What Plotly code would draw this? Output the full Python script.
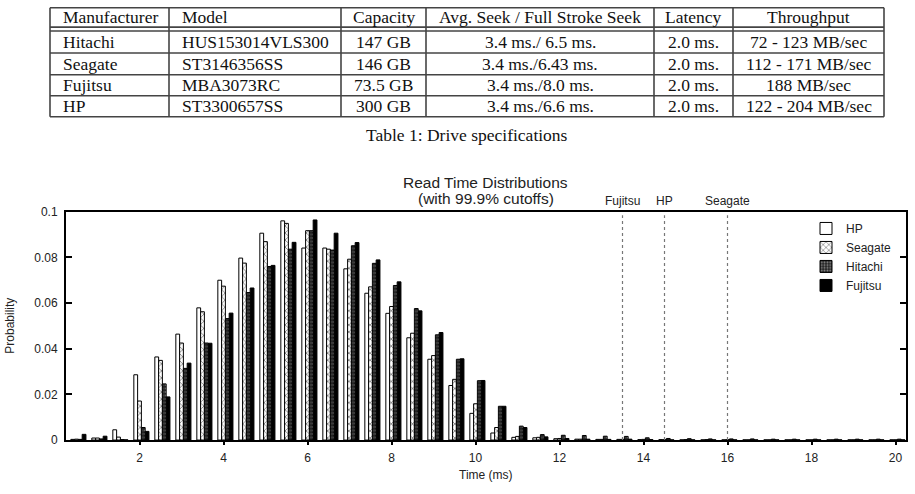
import plotly.graph_objects as go

W, H = 915, 494

# ---------------- table data ----------------
table_header = ["Manufacturer", "Model", "Capacity", "Avg. Seek / Full Stroke Seek", "Latency", "Throughput"]
manufacturers = ["Hitachi", "Seagate", "Fujitsu", "HP"]
models = ["HUS153014VLS300", "ST3146356SS", "MBA3073RC", "ST3300657SS"]
capacities = ["147 GB", "146 GB", "73.5 GB", "300 GB"]
seek_times = ["3.4 ms./ 6.5 ms.", "3.4 ms./6.43 ms.", "3.4 ms./8.0 ms.", "3.4 ms./6.6 ms."]
latencies = ["2.0 ms.", "2.0 ms.", "2.0 ms.", "2.0 ms."]
throughputs = ["72 - 123 MB/sec", "112 - 171 MB/sec", "188 MB/sec", "122 - 204 MB/sec"]
table_caption = "Table 1: Drive specifications"

# ---------------- chart data ----------------
times = [0.5, 1.0, 1.5, 2.0, 2.5, 3.0, 3.5, 4.0, 4.5, 5.0,
         5.5, 6.0, 6.5, 7.0, 7.5, 8.0, 8.5, 9.0, 9.5, 10.0,
         10.5, 11.0, 11.5, 12.0, 12.5, 13.0, 13.5, 14.0, 14.5, 15.0,
         15.5, 16.0, 16.5, 17.0, 17.5, 18.0, 18.5, 19.0, 19.5, 20.0]
hp = [0.0003, 0.0009, 0.0045, 0.0286, 0.0364, 0.0464, 0.0579, 0.0700, 0.0797, 0.0906,
      0.0960, 0.0841, 0.0841, 0.0750, 0.0643, 0.0555, 0.0448, 0.0354, 0.0239, 0.0117,
      0.0031, 0.0012, 0.0010, 0.0006, 0.0004, 0.0003, 0.0003, 0.0002, 0.0002, 0.0001,
      0.0001, 0.0001, 0.0001, 0.0001, 0.0001, 0.0001, 0.0001, 0.0001, 0.0001, 0.0001]
seagate = [0.0004, 0.0009, 0.0013, 0.0171, 0.0349, 0.0425, 0.0562, 0.0674, 0.0775, 0.0869,
           0.0949, 0.0917, 0.0836, 0.0792, 0.0671, 0.0585, 0.0468, 0.0370, 0.0266, 0.0159,
           0.0055, 0.0016, 0.0012, 0.0007, 0.0004, 0.0003, 0.0003, 0.0003, 0.0002, 0.0002,
           0.0002, 0.0002, 0.0001, 0.0001, 0.0001, 0.0001, 0.0001, 0.0001, 0.0001, 0.0001]
hitachi = [0.0003, 0.0005, 0.0002, 0.0055, 0.0246, 0.0314, 0.0425, 0.0532, 0.0646, 0.0760,
           0.0836, 0.0917, 0.0832, 0.0851, 0.0774, 0.0677, 0.0576, 0.0461, 0.0354, 0.0260,
           0.0148, 0.0061, 0.0024, 0.0021, 0.0020, 0.0017, 0.0016, 0.0010, 0.0007, 0.0006,
           0.0005, 0.0005, 0.0005, 0.0004, 0.0004, 0.0004, 0.0004, 0.0004, 0.0004, 0.0004]
fujitsu = [0.0025, 0.0017, 0.0001, 0.0038, 0.0189, 0.0337, 0.0424, 0.0556, 0.0666, 0.0765,
           0.0866, 0.0964, 0.0906, 0.0865, 0.0789, 0.0693, 0.0566, 0.0471, 0.0356, 0.0261,
           0.0148, 0.0055, 0.0014, 0.0007, 0.0004, 0.0003, 0.0004, 0.0002, 0.0001, 0.0001,
           0.0001, 0.0001, 0.0001, 0.0001, 0.0001, 0.0001, 0.0001, 0.0001, 0.0001, 0.0001]
cutoff_names = ["Fujitsu", "HP", "Seagate"]
cutoff_times = [13.5, 14.5, 16.0]
x_ticks = [2, 4, 6, 8, 10, 12, 14, 16, 18, 20]
y_ticks = [0, 0.02, 0.04, 0.06, 0.08, 0.1]
y_tick_text = ["0", "0.02", "0.04", "0.06", "0.08", "0.1"]
chart_title = ["Read Time Distributions", "(with 99.9% cutoffs)"]


def fx(px):
    return px / W


def fy(py):
    return 1 - py / H


SANS = "Liberation Sans, Arial, sans-serif"
SERIF = "Liberation Serif, Times New Roman, serif"
TXT = "#222222"

fig = go.Figure()

series = [
    ("HP", hp, dict(color="white", line=dict(color="black", width=1)), -0.135),
    ("Seagate", seagate, dict(color="white", line=dict(color="black", width=1),
                              pattern=dict(shape="x", fgcolor="black", bgcolor="white", size=5, solidity=0.3)), -0.045),
    ("Hitachi", hitachi, dict(color="#222222", line=dict(color="black", width=1),
                              pattern=dict(shape=".", fgcolor="white", bgcolor="#222222", size=3.5, solidity=0.35)), 0.045),
    ("Fujitsu", fujitsu, dict(color="black", line=dict(color="black", width=1)), 0.135),
]
for name, vals, marker, off in series:
    fig.add_trace(go.Bar(x=times, y=vals, name=name, marker=marker,
                         width=0.09, offset=off))

shapes = []
annotations = []

# cutoff lines
for nm, t in zip(cutoff_names, cutoff_times):
    shapes.append(dict(type="line", xref="x", yref="y", x0=t, x1=t, y0=0, y1=0.0985,
                       line=dict(color="#777777", width=1.2, dash="dot"), layer="above"))
    annotations.append(dict(xref="x", yref="paper", x=t, y=fy(199.5), text=nm, showarrow=False,
                            xanchor="center", yanchor="middle", font=dict(family=SANS, size=12, color=TXT)))

# chart title
annotations.append(dict(xref="paper", yref="paper", x=fx(486), y=fy(181), text=chart_title[0], showarrow=False,
                        xanchor="center", yanchor="middle", font=dict(family=SANS, size=15.5, color=TXT)))
annotations.append(dict(xref="paper", yref="paper", x=fx(486), y=fy(197.5), text=chart_title[1], showarrow=False,
                        xanchor="center", yanchor="middle", font=dict(family=SANS, size=15.5, color=TXT)))
# axis titles
annotations.append(dict(xref="paper", yref="paper", x=fx(486), y=fy(482), text="Time (ms)", showarrow=False,
                        xanchor="center", yanchor="middle", font=dict(family=SANS, size=12, color=TXT)))
annotations.append(dict(xref="paper", yref="paper", x=fx(10), y=fy(328), text="Probability", showarrow=False,
                        textangle=-90, xanchor="center", yanchor="middle", font=dict(family=SANS, size=12, color=TXT)))

# ---------------- table (lines + text) ----------------
col_edges = [50, 169, 341, 426, 654, 733, 884]
row_lines = [0.7, 20.7, 24.7, 47.3, 69.7, 91.3, 113]
header_mid = 10.5
row_mids = [36.0, 58.3, 80.3, 102.0]
LINE = dict(color="#444444", width=1.6)
for y in row_lines:
    shapes.append(dict(type="line", xref="paper", yref="paper", x0=fx(col_edges[0]), x1=fx(col_edges[-1]),
                       y0=fy(y), y1=fy(y), line=LINE))
for x in col_edges:
    shapes.append(dict(type="line", xref="paper", yref="paper", x0=fx(x), x1=fx(x),
                       y0=fy(row_lines[0]), y1=fy(row_lines[-1]), line=LINE))

columns = [manufacturers, models, capacities, seek_times, latencies, throughputs]
aligns = ["left", "left", "center", "center", "center", "center"]


def cell(text, ci, ymid):
    left, right = col_edges[ci], col_edges[ci + 1]
    if aligns[ci] == "left":
        x, anchor = left + 11, "left"
    else:
        x, anchor = (left + right) / 2, "center"
    annotations.append(dict(xref="paper", yref="paper", x=fx(x), y=fy(ymid), text=text, showarrow=False,
                            xanchor=anchor, yanchor="middle", font=dict(family=SERIF, size=17.5, color="#111111")))


for ci, h in enumerate(table_header):
    cell(h, ci, header_mid)
for ci, col in enumerate(columns):
    for ri, v in enumerate(col):
        cell(v, ci, row_mids[ri])
annotations.append(dict(xref="paper", yref="paper", x=fx(467), y=fy(132), text=table_caption, showarrow=False,
                        xanchor="center", yanchor="middle", font=dict(family=SERIF, size=17.5, color="#111111")))

fig.update_layout(
    width=W, height=H,
    margin=dict(l=0, r=0, t=0, b=0),
    paper_bgcolor="white", plot_bgcolor="white",
    barmode="overlay",
    showlegend=True,
    legend=dict(x=fx(897), y=fy(213), xanchor="right", yanchor="top", bgcolor="rgba(0,0,0,0)",
                font=dict(family=SANS, size=12, color=TXT), tracegroupgap=0, itemwidth=30),
    xaxis=dict(domain=[fx(66), fx(906)], range=[0.25, 20.25], tickvals=x_ticks,
               showline=True, linecolor="black", linewidth=2, mirror=True,
               ticks="outside", ticklen=3, tickwidth=1.5, tickcolor="black",
               showgrid=False, zeroline=False, ticklabelstandoff=3,
               tickfont=dict(family=SANS, size=12, color=TXT)),
    yaxis=dict(domain=[fy(445.7), fy(210.7)], range=[0, 0.1], tickvals=y_ticks, ticktext=y_tick_text,
               showline=True, linecolor="black", linewidth=2, mirror="ticks",
               ticks="inside", ticklen=6, tickwidth=1.5, tickcolor="black",
               showgrid=False, zeroline=False, ticklabelstandoff=4,
               tickfont=dict(family=SANS, size=12, color=TXT)),
    shapes=shapes,
    annotations=annotations,
)

fig.write_html("out.html")
